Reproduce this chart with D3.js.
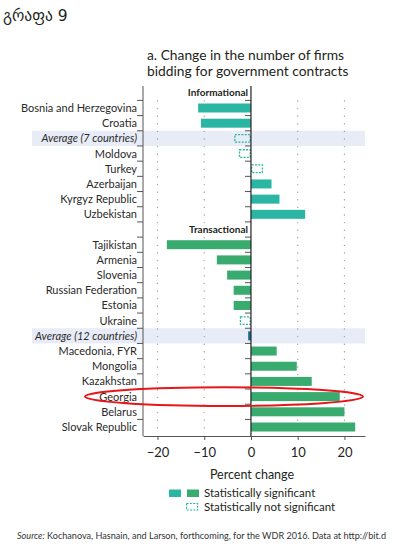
<!DOCTYPE html>
<html>
<head>
<meta charset="utf-8">
<script src="https://cdn.jsdelivr.net/npm/d3@7"></script>
<style>
  body { margin: 0; background: #fff; }
  svg { display: block; }
  text { font-family: Lato, "Liberation Sans", sans-serif; fill: #231f20; }
</style>
</head>
<body>
<div id="chart"></div>
<script>
// informational group
var infoCountries = ["Bosnia and Herzegovina", "Croatia", "Average (7 countries)", "Moldova", "Turkey", "Azerbaijan", "Kyrgyz Republic", "Uzbekistan"];
var infoValues = [-11.3, -10.7, -3.6, -2.6, 2.6, 4.4, 6.1, 11.6];
var infoKind = ["sig", "sig", "ns", "ns", "ns", "sig", "sig", "sig"];

// transactional group
var transCountries = ["Tajikistan", "Armenia", "Slovenia", "Russian Federation", "Estonia", "Ukraine", "Average (12 countries)", "Macedonia, FYR", "Mongolia", "Kazakhstan", "Georgia", "Belarus", "Slovak Republic"];
var transValues = [-18.0, -7.3, -5.1, -3.7, -3.7, -2.4, -0.6, 5.5, 9.8, 13.0, 19.0, 20.0, 22.3];
var transKind = ["sig", "sig", "sig", "sig", "sig", "ns", "avg", "sig", "sig", "sig", "sig", "sig", "sig"];

var xTicks = [-20, -10, 0, 10, 20];

var teal = "#2bb5a3", green = "#3aab6e", avgBlue = "#1d6b98";

var W = 394, H = 549;
var svg = d3.select("#chart").append("svg").attr("width", W).attr("height", H);

// build rows with header slots
var rows = [];
rows.push({ key: "h_info", header: "Informational" });
infoCountries.forEach(function(c, i) {
  rows.push({ key: c, name: c, value: infoValues[i], kind: infoKind[i], color: teal });
});
rows.push({ key: "h_trans", header: "Transactional" });
transCountries.forEach(function(c, i) {
  rows.push({ key: c, name: c, value: transValues[i], kind: transKind[i], color: transKind[i] == "avg" ? avgBlue : (transKind[i] == "ns" ? teal : green) });
});

var x = d3.scaleLinear().domain([-23.1, 24.4]).range([143, 365]);
var y = d3.scaleBand().domain(rows.map(function(d) { return d.key; })).range([85.2, 434.6]).padding(0);
var bh = 9;

// title
svg.append("text").attr("x", 3).attr("y", 21)
  .style("font-family", "'DejaVu Sans', sans-serif").style("font-size", "15.5px")
  .text("გრაფა 9");
svg.append("text").attr("x", 147).attr("y", 60).style("font-size", "13.8px")
  .text("a. Change in the number of firms");
svg.append("text").attr("x", 147).attr("y", 76).style("font-size", "13.8px")
  .text("bidding for government contracts");

// average highlight bands
rows.filter(function(d) { return d.name && d.name.indexOf("Average") == 0; }).forEach(function(d) {
  svg.append("rect").attr("x", 32).attr("y", y(d.key)).attr("width", x.range()[1] - 32)
    .attr("height", y.bandwidth()).attr("fill", "#e8ecf7");
});

// dotted grid
xTicks.filter(function(t) { return t != 0; }).forEach(function(t) {
  svg.append("line").attr("x1", x(t)).attr("x2", x(t)).attr("y1", 101).attr("y2", 434)
    .attr("stroke", "#a0a0a0").attr("stroke-width", 1.4).attr("stroke-linecap", "round")
    .attr("stroke-dasharray", "0,7.6");
});

// bars
var barRows = rows.filter(function(d) { return d.name; });
barRows.forEach(function(d) {
  var x0 = x(Math.min(0, d.value)), x1 = x(Math.max(0, d.value));
  var yy = y(d.key) + (y.bandwidth() - bh) / 2;
  if (d.kind == "ns") {
    svg.append("rect").attr("x", x0 + 0.7).attr("y", yy + 0.7).attr("width", x1 - x0 - 1.4).attr("height", bh - 1.4)
      .attr("fill", "none").attr("stroke", d.color).attr("stroke-width", 1.3).attr("stroke-dasharray", "2,1.3");
  } else {
    svg.append("rect").attr("x", x0).attr("y", yy).attr("width", x1 - x0).attr("height", bh)
      .attr("fill", d.color);
  }
});

// labels
barRows.forEach(function(d) {
  svg.append("text").attr("x", 137).attr("y", y(d.key) + y.bandwidth() / 2 + 4)
    .attr("text-anchor", "end").style("font-size", "11px")
    .style("font-style", d.name.indexOf("Average") == 0 ? "italic" : "normal")
    .style("fill", "#2a2a2a")
    .text(d.name);
});

// group headers
rows.filter(function(d) { return d.header; }).forEach(function(d) {
  svg.append("text").attr("x", 248).attr("y", y(d.key) + y.bandwidth() / 2 + 3.5)
    .attr("text-anchor", "end").style("font-size", "10px").style("font-weight", "bold")
    .text(d.header);
});

// left axis + ticks at band boundaries
var yTop = 86, yBot = 436;
svg.append("line").attr("x1", 143).attr("x2", 143).attr("y1", yTop).attr("y2", yBot)
  .attr("stroke", "#555").attr("stroke-width", 1);
rows.slice(1).forEach(function(d) {
  var yb = y(d.key);
  svg.append("line").attr("x1", 137).attr("x2", 143).attr("y1", yb).attr("y2", yb).attr("stroke", "#555");
  svg.append("line").attr("x1", x(0) - 6).attr("x2", x(0)).attr("y1", yb).attr("y2", yb).attr("stroke", "#555");
});

// zero line
svg.append("line").attr("x1", x(0)).attr("x2", x(0)).attr("y1", yTop).attr("y2", yBot)
  .attr("stroke", "#222").attr("stroke-width", 1.2);

// bottom axis
var xAxis = d3.axisBottom(x).tickValues(xTicks).tickSize(4).tickSizeOuter(0)
  .tickFormat(function(d) { return d < 0 ? "\u2212" + Math.abs(d) : d; });
var gx = svg.append("g").attr("transform", "translate(0," + yBot + ")").call(xAxis);
gx.select(".domain").attr("stroke", "#555");
gx.selectAll(".tick line").attr("stroke", "#555");
gx.selectAll(".tick text").attr("dy", "1.05em").style("font-size", "13px")
  .style("font-family", "Lato, 'Liberation Sans', sans-serif").attr("fill", "#231f20");

svg.append("text").attr("x", 252).attr("y", 479).attr("text-anchor", "middle").style("font-size", "12.5px")
  .text("Percent change");

// legend
svg.append("rect").attr("x", 169).attr("y", 489.5).attr("width", 12).attr("height", 7.5).attr("fill", teal);
svg.append("rect").attr("x", 187).attr("y", 489.5).attr("width", 12).attr("height", 7.5).attr("fill", green);
svg.append("rect").attr("x", 186.6).attr("y", 503.5).attr("width", 11).attr("height", 6.5)
  .attr("fill", "none").attr("stroke", teal).attr("stroke-width", 1.2).attr("stroke-dasharray", "2,1.3");
svg.append("text").attr("x", 204).attr("y", 497).style("font-size", "11.5px").text("Statistically significant");
svg.append("text").attr("x", 204).attr("y", 511).style("font-size", "11.5px").text("Statistically not significant");

// source
var src = svg.append("text").attr("x", 17).attr("y", 539).style("font-size", "9.1px").style("fill", "#333");
src.append("tspan").style("font-style", "italic").text("Source:");
src.append("tspan").text(" Kochanova, Hasnain, and Larson, forthcoming, for the WDR 2016. Data at http://bit.d");

// red ellipse around Georgia
svg.append("ellipse").attr("cx", 224).attr("cy", y("Georgia") + y.bandwidth() / 2)
  .attr("rx", 139).attr("ry", 9.3).attr("fill", "none").attr("stroke", "#e8161b").attr("stroke-width", 2);
</script>
</body>
</html>
